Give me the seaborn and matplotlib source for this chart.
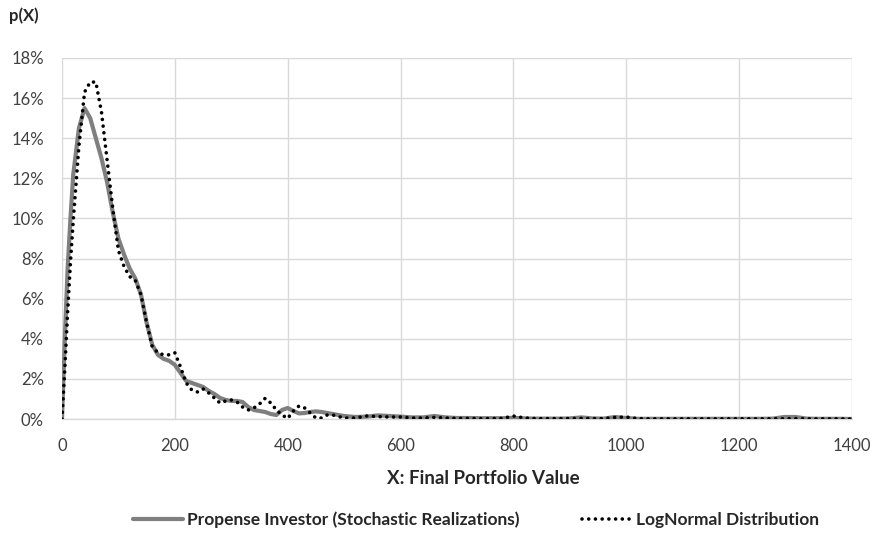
import matplotlib
matplotlib.use("Agg")
import matplotlib.pyplot as plt
import seaborn as sns
import pandas as pd
from matplotlib.ticker import FuncFormatter, MultipleLocator

# Final portfolio value grid
x_values = [0, 5, 10, 15, 20, 30, 40, 50, 60, 70, 80, 90, 100, 110, 120, 130, 140, 150,
            160, 170, 180, 190, 200, 210, 220, 230, 240, 250, 260, 270, 280, 290, 300,
            310, 320, 330, 340, 350, 360, 370, 380, 390, 400, 410, 420, 430, 440, 450,
            460, 470, 480, 500, 520, 540, 560, 580, 600, 620, 640, 660, 680, 700, 720,
            740, 760, 780, 800, 820, 840, 860, 880, 900, 920, 940, 960, 980, 1000, 1020,
            1040, 1060, 1080, 1100, 1120, 1140, 1160, 1180, 1200, 1220, 1240, 1260, 1280,
            1300, 1320, 1340, 1360, 1380, 1400]

# Empirical density of stochastic realizations (percent)
stochastic_pct = [0, 4.0, 7.5, 10.0, 12.2, 14.5, 15.5, 15.0, 14.0, 13.0, 11.8, 10.3, 9.0, 8.2,
                  7.5, 7.0, 6.2, 4.8, 3.7, 3.2, 3.0, 2.9, 2.7, 2.3, 1.9, 1.8, 1.7, 1.6, 1.4,
                  1.25, 1.05, 0.95, 0.9, 0.9, 0.85, 0.6, 0.45, 0.4, 0.35, 0.25, 0.2, 0.45,
                  0.55, 0.4, 0.28, 0.3, 0.35, 0.38, 0.35, 0.3, 0.25, 0.15, 0.1, 0.12, 0.18,
                  0.15, 0.12, 0.08, 0.08, 0.15, 0.08, 0.05, 0.05, 0.04, 0.04, 0.04, 0.06,
                  0.03, 0.02, 0.02, 0.02, 0.03, 0.08, 0.03, 0.02, 0.1, 0.05, 0.01, 0.01,
                  0.01, 0.01, 0.01, 0.01, 0.01, 0.01, 0.01, 0.01, 0.01, 0.01, 0.02, 0.1,
                  0.1, 0.02, 0.01, 0.01, 0.01, 0.0]

# Fitted lognormal density (percent)
lognormal_pct = [0, 2.5, 5.3, 7.8, 9.9, 13.6, 16.3, 16.8, 16.8, 15.3, 12.9, 10.5, 8.4, 7.6,
                 7.1, 6.9, 6.2, 4.8, 3.6, 3.3, 3.2, 3.2, 3.3, 2.6, 1.8, 1.45, 1.35, 1.5, 1.3,
                 1.05, 0.8, 0.9, 0.95, 0.85, 0.6, 0.45, 0.55, 0.75, 1.03, 0.8, 0.45, 0.2,
                 0.03, 0.4, 0.65, 0.55, 0.3, 0.05, 0.05, 0.2, 0.2, 0.05, 0.05, 0.15, 0.12,
                 0.1, 0.1, 0.05, 0.05, 0.08, 0.05, 0.03, 0.03, 0.02, 0.02, 0.03, 0.15,
                 0.05, 0.02, 0.02, 0.02, 0.02, 0.03, 0.02, 0.02, 0.08, 0.1, 0.02, 0.01,
                 0.01, 0.01, 0.01, 0.01, 0.01, 0.01, 0.01, 0.01, 0.01, 0.01, 0.01, 0.02,
                 0.02, 0.01, 0.01, 0.01, 0.01, 0.0]

label_stoch = "Propense Investor (Stochastic Realizations)"
label_logn = "LogNormal Distribution"

df = pd.DataFrame({"x": x_values,
                   "stoch": [v / 100 for v in stochastic_pct],
                   "logn": [v / 100 for v in lognormal_pct]})

sns.set_theme(style="white")
plt.rcParams["font.family"] = ["Lato", "DejaVu Sans"]

fig = plt.figure(figsize=(8.78, 5.35), dpi=100)
ax = fig.add_axes([0.0706, 0.2168, 0.8998, 0.6748])

sns.lineplot(data=df, x="x", y="stoch", ax=ax, color="#7f7f7f", linewidth=3.0,
             label=label_stoch, solid_capstyle="round", zorder=3, legend=False)
sns.lineplot(data=df, x="x", y="logn", ax=ax, color="black", linewidth=2.6,
             label=label_logn, zorder=4, legend=False)
ax.lines[1].set_dashes([0.01, 1.85])
ax.lines[1].set_dash_capstyle("round")

ax.set_xlim(0, 1400)
ax.set_ylim(0, 0.18)
ax.xaxis.set_major_locator(MultipleLocator(200))
ax.yaxis.set_major_locator(MultipleLocator(0.02))
ax.yaxis.set_major_formatter(FuncFormatter(lambda v, p: f"{v*100:.0f}%"))

ax.grid(True, color="#d9d9d9", linewidth=1.0)
ax.set_axisbelow(True)
for side in ["left", "right", "top"]:
    ax.spines[side].set_visible(False)
ax.spines["bottom"].set_color("#d9d9d9")
ax.spines["bottom"].set_linewidth(1.0)
ax.tick_params(axis="both", length=0, labelsize=12, colors="#404040")
ax.tick_params(axis="x", pad=14)
ax.tick_params(axis="y", pad=13)

ax.set_xlabel("")
ax.set_ylabel("")
fig.text(0.550, 0.105, "X: Final Portfolio Value", fontsize=13.5, fontweight="bold",
         color="#262626", ha="center", va="center")
fig.text(0.010, 0.970, "p(X)", fontsize=12, fontweight="bold", color="#262626",
         ha="left", va="center")

handles, labels = ax.get_legend_handles_labels()
leg = fig.legend(handles, labels, loc="center", bbox_to_anchor=(0.542, 0.028), ncol=2,
                 frameon=False, handlelength=2.9, columnspacing=3.6, handletextpad=0.2,
                 prop={"weight": "bold", "size": 12.5})
for t in leg.get_texts():
    t.set_color("#262626")

fig.savefig("out.png", dpi=100)
